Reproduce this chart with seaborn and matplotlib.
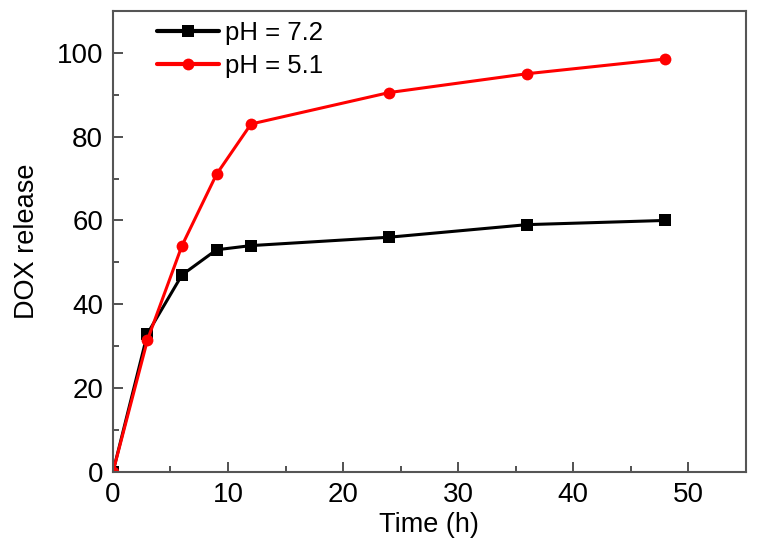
import matplotlib
matplotlib.use("Agg")
import matplotlib.pyplot as plt
from matplotlib.ticker import MultipleLocator
import seaborn as sns
import pandas as pd

# Release data
time_h = [0, 3, 6, 9, 12, 24, 36, 48]
release_ph72 = [0, 33, 47, 53, 54, 56, 59, 60]
release_ph51 = [0, 31.5, 54, 71, 83, 90.5, 95, 98.5]
labels = ["pH = 7.2", "pH = 5.1"]

df = pd.DataFrame({
    "Time": time_h * 2,
    "Release": release_ph72 + release_ph51,
    "Condition": [labels[0]] * len(time_h) + [labels[1]] * len(time_h),
})

sns.set_style("ticks")
plt.rcParams["font.family"] = ["Liberation Sans", "DejaVu Sans"]
plt.rcParams["text.color"] = "black"
plt.rcParams["axes.labelcolor"] = "black"

fig = plt.figure(figsize=(7.58, 5.57), dpi=100)
ax = fig.add_axes([0.149, 0.1526, 0.835, 0.828])

sns.lineplot(data=df, x="Time", y="Release", hue="Condition", style="Condition",
             markers={labels[0]: "s", labels[1]: "o"}, dashes=False,
             palette={labels[0]: "black", labels[1]: "#ff0000"},
             linewidth=2.2, markersize=8.5, markeredgewidth=0, ax=ax)

ax.set_xlim(0, 55)
ax.set_ylim(0, 110)
ax.xaxis.set_major_locator(MultipleLocator(10))
ax.xaxis.set_minor_locator(MultipleLocator(5))
ax.yaxis.set_major_locator(MultipleLocator(20))
ax.yaxis.set_minor_locator(MultipleLocator(10))
ax.tick_params(which="major", direction="in", length=7, width=1.2, labelsize=20,
               color="#333333", labelcolor="black", pad=7)
ax.tick_params(which="minor", direction="in", length=4, width=1.2, color="#333333")
for s in ax.spines.values():
    s.set_visible(True)
    s.set_linewidth(1.5)
    s.set_color("#555555")

ax.set_xlabel("Time (h)", fontsize=19.5, labelpad=3)
ax.set_ylabel("DOX release", fontsize=19.5, labelpad=12)

leg = ax.legend(loc="upper left", frameon=False, fontsize=18.5, handlelength=2.4,
                handletextpad=0.25, borderaxespad=0.2, labelspacing=0.35,
                bbox_to_anchor=(0.045, 1.012))
for line in leg.get_lines():
    line.set_linewidth(3)

fig.savefig("out.png", dpi=100)
